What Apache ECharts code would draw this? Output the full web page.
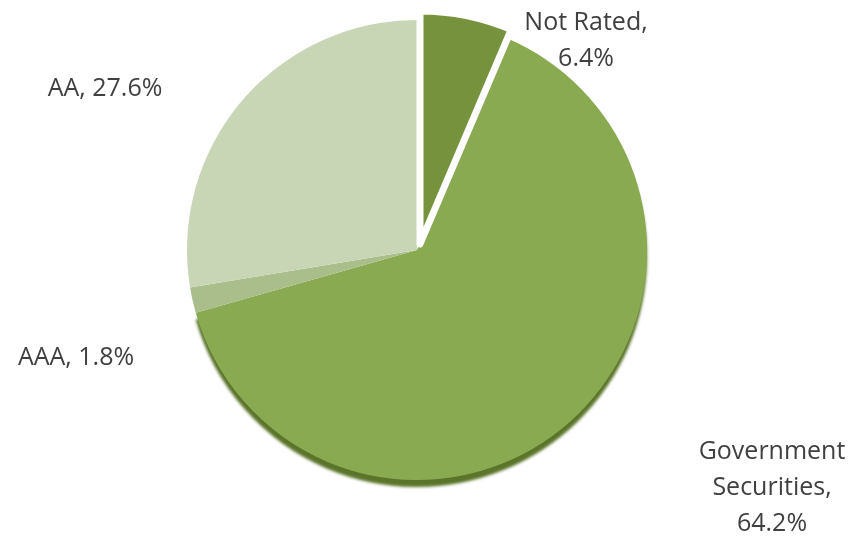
<!DOCTYPE html>
<html>
<head>
<meta charset="utf-8">
<script src="https://cdn.jsdelivr.net/npm/echarts@6/dist/echarts.min.js"></script>
<style>
html,body{margin:0;padding:0;background:#fff;}
#chart{width:856px;height:540px;}
</style>
</head>
<body>
<div id="chart"></div>
<script>
// Data
var categories = ['Not Rated', 'Government Securities', 'AAA', 'AA'];
var values = [6.4, 64.2, 1.8, 27.6];
var labelTexts = ['Not Rated,\n6.4%', 'Government\nSecurities,\n64.2%', 'AAA, 1.8%', 'AA, 27.6%'];
var explodedIndex = 0;

// Styling / layout
var colors = ['#76923d', '#8aaa51', '#a9be8a', '#c9d6b6'];
var labelAnchors = [[586, 41], [772, 488], [76, 358], [105, 89]];
var pieCenter = [417, 250];
var explodeShift = [3, -6];
var transparent = 'rgba(0,0,0,0)';

var chart = echarts.init(document.getElementById('chart'), null, {renderer: 'canvas'});

// Main pie: all slices except the exploded one, plus all labels
var mainData = categories.map(function (c, i) {
  var item = {name: c, value: values[i], itemStyle: {color: i === explodedIndex ? transparent : colors[i]}};
  if (i === 1) {
    item.itemStyle.shadowColor = '#5a7429';
    item.itemStyle.shadowOffsetY = 7;
    item.itemStyle.shadowBlur = 3;
  }
  return item;
});

// Exploded pie: only the exploded slice is visible
var explodedData = categories.map(function (c, i) {
  var vis = i === explodedIndex;
  return {
    name: c,
    value: values[i],
    itemStyle: {
      color: vis ? colors[i] : transparent,
      borderColor: vis ? '#ffffff' : transparent,
      borderWidth: vis ? 7 : 0
    }
  };
});

chart.setOption({
  backgroundColor: '#ffffff',
  animation: false,
  series: [{
    type: 'pie',
    center: pieCenter,
    radius: 230,
    startAngle: 90,
    clockwise: true,
    avoidLabelOverlap: false,
    emphasis: {disabled: true},
    data: mainData,
    label: {
      show: true,
      position: 'outside',
      formatter: function (p) { return labelTexts[p.dataIndex]; },
      fontFamily: 'Open Sans',
      fontSize: 25,
      lineHeight: 36,
      color: '#404040',
      align: 'center'
    },
    labelLine: {show: false},
    labelLayout: function (params) {
      var a = labelAnchors[params.dataIndex];
      return {x: a[0], y: a[1], align: 'center', verticalAlign: 'middle'};
    },
    z: 2
  }, {
    type: 'pie',
    center: [pieCenter[0] + explodeShift[0], pieCenter[1] + explodeShift[1]],
    radius: 233,
    startAngle: 90,
    clockwise: true,
    emphasis: {disabled: true},
    silent: true,
    data: explodedData,
    label: {show: false},
    labelLine: {show: false},
    z: 3
  }]
});
</script>
</body>
</html>
